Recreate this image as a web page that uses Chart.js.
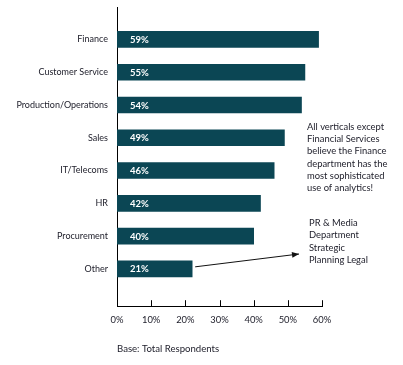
<!DOCTYPE html>
<html>
<head>
<meta charset="utf-8">
<script src="https://cdn.jsdelivr.net/npm/chart.js@4"></script>
<style>
  html, body { margin: 0; padding: 0; background: #fff; }
  #wrap { width: 403px; height: 365px; }
</style>
</head>
<body>
<div id="wrap"><canvas id="deptChart" width="403" height="365"></canvas></div>
<script>
// datos
const categories = ['Finance', 'Customer Service', 'Production/Operations', 'Sales',
                    'IT/Telecoms', 'HR', 'Procurement', 'Other'];
const barValues  = [59, 55, 54, 49, 46, 42, 40, 22];
const valueLabels = ['59%', '55%', '54%', '49%', '46%', '42%', '40%', '21%'];
const xTicks = [0, 10, 20, 30, 40, 50, 60];
const noteText = ['All verticals except', 'Financial Services', 'believe the Finance',
                  'department has the', 'most sophisticated', 'use of analytics!'];
const otherText = ['PR & Media', 'Department', 'Strategic', 'Planning Legal'];

const FONT = 'Lato, "Open Sans", sans-serif';
const TEXT = '#1c1c28';
const BAR = '#0b4654';

// etiquetas, marcas del eje x y notas
const extras = {
  id: 'extras',
  afterDatasetsDraw(chart) {
    const ctx = chart.ctx;
    const x = chart.scales.x, y = chart.scales.y;
    ctx.save();
    // valores dentro de las barras
    ctx.fillStyle = '#fff';
    ctx.font = 'bold 9.5px ' + FONT;
    ctx.textBaseline = 'middle';
    ctx.textAlign = 'left';
    valueLabels.forEach((t, i) => {
      ctx.fillText(t, x.getPixelForValue(0) + 13, y.getPixelForValue(i) + 0.5);
    });
    // marcas hacia dentro
    ctx.strokeStyle = '#000';
    ctx.lineWidth = 1;
    const b = chart.chartArea.bottom;
    xTicks.forEach(v => {
      const px = Math.round(x.getPixelForValue(v)) + 0.5;
      ctx.beginPath();
      ctx.moveTo(px, b);
      ctx.lineTo(px, b - 6);
      ctx.stroke();
    });
    // nota de la derecha
    ctx.fillStyle = TEXT;
    ctx.font = '9.4px ' + FONT;
    noteText.forEach((t, i) => ctx.fillText(t, 307, 127 + i * 12.2));
    otherText.forEach((t, i) => ctx.fillText(t, 309, 223 + i * 12.3));
    // flecha desde "Other"
    const x0 = x.getPixelForValue(barValues[7]) + 3;
    const y0 = y.getPixelForValue(7) - 2;
    const x1 = 299, y1 = 254;
    ctx.strokeStyle = '#111';
    ctx.beginPath();
    ctx.moveTo(x0, y0);
    ctx.lineTo(x1, y1);
    ctx.stroke();
    const a = Math.atan2(y1 - y0, x1 - x0);
    ctx.fillStyle = '#111';
    ctx.beginPath();
    ctx.moveTo(x1, y1);
    ctx.lineTo(x1 - 7 * Math.cos(a) + 3 * Math.sin(a), y1 - 7 * Math.sin(a) - 3 * Math.cos(a));
    ctx.lineTo(x1 - 7 * Math.cos(a) - 3 * Math.sin(a), y1 - 7 * Math.sin(a) + 3 * Math.cos(a));
    ctx.closePath();
    ctx.fill();
    ctx.restore();
  }
};

new Chart(document.getElementById('deptChart').getContext('2d'), {
  type: 'bar',
  data: {
    datasets: [{
      data: barValues.map((v, i) => ({ x: v, y: i })),
      backgroundColor: BAR,
      borderWidth: 0,
      barThickness: 16
    }]
  },
  options: {
    indexAxis: 'y',
    responsive: false,
    animation: false,
    layout: { padding: { left: 0, right: 81, top: 7, bottom: 10 } },
    plugins: { legend: { display: false }, tooltip: { enabled: false } },
    scales: {
      y: {
        type: 'linear',
        reverse: true,
        offset: false,
        min: -0.99,
        max: 8.14,
        afterBuildTicks: s => { s.ticks = categories.map((c, i) => ({ value: i })); },
        afterFit: s => { s.width = 117; s.paddingTop = 0; s.paddingBottom = 0; },
        grid: { display: false, drawTicks: false },
        border: { display: true, color: '#000', width: 1 },
        ticks: {
          padding: 9,
          color: TEXT,
          font: { family: FONT, size: 9 },
          callback: v => categories[v]
        }
      },
      x: {
        type: 'linear',
        min: 0,
        max: 60,
        afterBuildTicks: s => { s.ticks = xTicks.map(v => ({ value: v })); },
        grid: { display: false, drawTicks: false },
        border: { display: true, color: '#000', width: 1 },
        ticks: {
          padding: 8,
          color: TEXT,
          font: { family: FONT, size: 9.4 },
          maxRotation: 0,
          callback: v => v + '%'
        },
        title: {
          display: true,
          text: 'Base: Total Respondents',
          align: 'start',
          color: TEXT,
          font: { family: FONT, size: 9.6 },
          padding: { top: 10, bottom: 0 }
        }
      }
    }
  },
  plugins: [extras]
});
</script>
</body>
</html>
